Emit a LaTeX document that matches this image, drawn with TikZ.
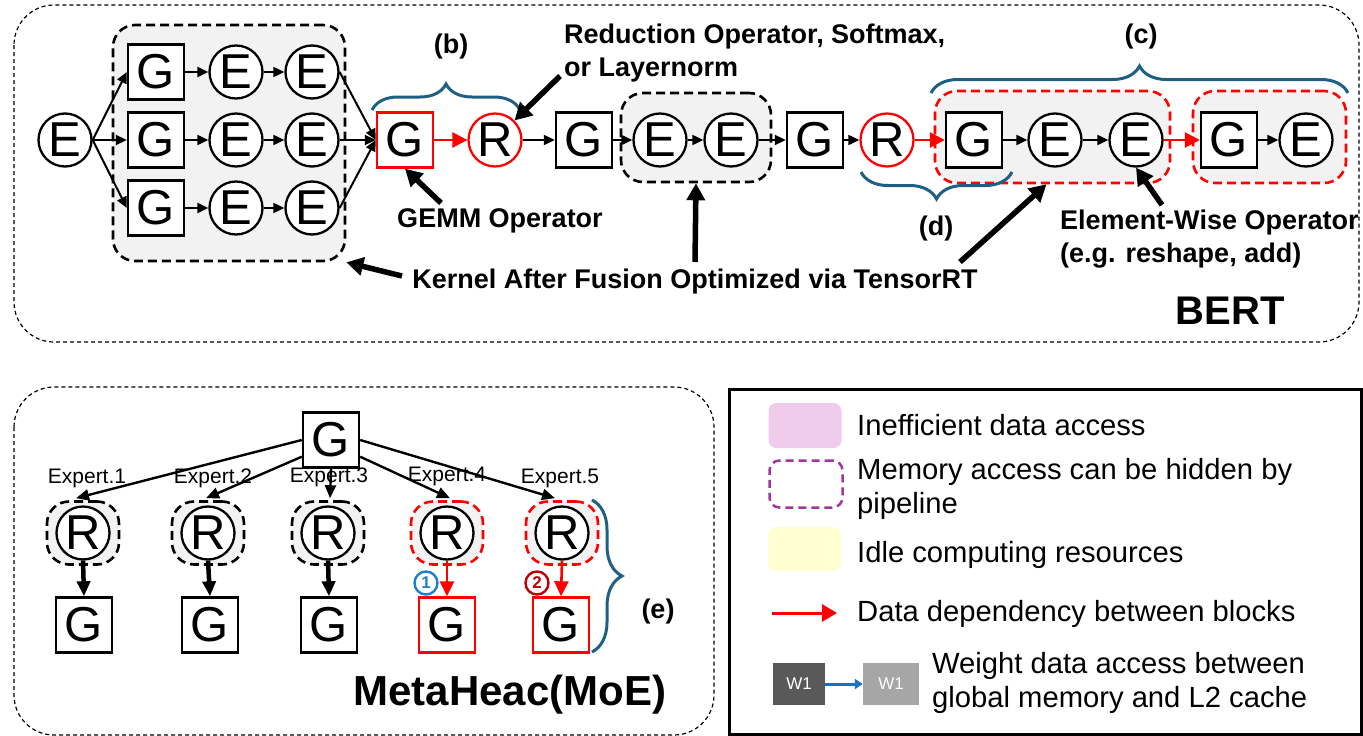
\documentclass[tikz,border=0pt]{standalone}
\usepackage{fontspec}
\setmainfont{Liberation Sans}
\usetikzlibrary{arrows.meta,decorations.pathreplacing,calc}

\definecolor{bracecol}{HTML}{1F5F84}
\definecolor{fusegray}{HTML}{F2F2F2}
\definecolor{pinkfill}{HTML}{F0CCEC}
\definecolor{purpledash}{HTML}{A0359C}
\definecolor{yellowfill}{HTML}{FFFFD2}
\definecolor{darkw}{HTML}{595959}
\definecolor{lightw}{HTML}{A6A6A6}
\definecolor{wireblue}{HTML}{1F70C1}
\definecolor{numblue}{HTML}{1F7FCC}
\definecolor{numred}{HTML}{C00000}
\definecolor{opred}{HTML}{FF0000}

\newcommand\opfont{\fontsize{49}{49}\selectfont}
\newcommand\lblfont{\bfseries\fontsize{27}{33}\selectfont}
\newcommand\legfont{\fontsize{29.2}{34}\selectfont}

\tikzset{
  panel/.style={draw, line width=1.2pt, dash pattern=on 4pt off 3pt, rounded corners=40pt},
  gnode/.style={draw, line width=2.4pt, fill=white, minimum width=56pt, minimum height=55pt, inner sep=0pt, font=\opfont},
  enode/.style={circle, draw, line width=2.3pt, fill=white, minimum size=53pt, inner sep=0pt, font=\opfont},
  fused/.style={draw, line width=2.6pt, dash pattern=on 9pt off 5pt, fill=fusegray, rounded corners=22pt, inner sep=0pt},
  redfused/.style={fused, draw=opred},
  blk/.style={-{Triangle[length=11pt,width=10pt]}, line width=2pt},
  redarr/.style={-{Triangle[length=15pt,width=15pt]}, draw=opred, fill=opred, line width=2.6pt},
  pointer/.style={-{Triangle[length=17pt,width=18pt]}, line width=5.5pt},
  fan/.style={-{Triangle[length=13pt,width=11pt]}, line width=2.4pt},
  drop/.style={-{Triangle[length=15pt,width=13pt]}, line width=4.5pt},
  reddrop/.style={-{Triangle[length=15pt,width=14pt]}, draw=opred, fill=opred, line width=2.6pt},
  bracedraw/.style={draw=bracecol, line width=3pt, decorate},
  lbl/.style={font=\lblfont, inner sep=0pt},
  explbl/.style={font=\fontsize{21}{21}\selectfont, inner sep=0pt},
  leg/.style={font=\legfont, inner sep=0pt, align=left},
  numc/.style={circle, line width=2.4pt, minimum size=23pt, inner sep=0pt, font=\bfseries\fontsize{17}{17}\selectfont},
}

\begin{document}
\begin{tikzpicture}[x=1pt, y=-1pt]
\useasboundingbox (0,0) rectangle (1363,736);

% ---------- BERT panel ----------
\draw[panel] (14,5) rectangle (1359,342);

% fused kernel around the three parallel branches
\node[fused, minimum width=232pt, minimum height=236pt] (k1) at (229,143) {};
\node[enode] (e0) at (65,140) {E};
\foreach \i/\y in {1/72,2/140,3/208}{
  \node[gnode] (g\i) at (156,\y) {G};
  \node[enode] (ea\i) at (236,\y) {E};
  \node[enode] (eb\i) at (312,\y) {E};
  \draw[blk] (e0.east) -- (g\i.west);
  \draw[blk] (g\i) -- (ea\i);
  \draw[blk] (ea\i) -- (eb\i);
}

\node[gnode, draw=opred] (rg) at (405,140) {G};
\node[enode, draw=opred] (rr) at (495,140) {R};
\foreach \i in {1,2,3}{ \draw[blk] (eb\i.east) -- (rg.west); }
\draw[redarr] (rg) -- (rr);

\node[gnode] (g4) at (584,140) {G};
\draw[blk] (rr) -- (g4);
\node[fused, minimum width=150pt, minimum height=89pt] (k2) at (696,137.5) {};
\node[enode] (e4a) at (660,140) {E};
\node[enode] (e4b) at (731,140) {E};
\node[gnode] (g5) at (815,140) {G};
\node[enode, draw=opred] (r5) at (887,140) {R};
\draw[blk] (g4) -- (e4a);
\draw[blk] (e4a) -- (e4b);
\draw[blk] (e4b) -- (g5);
\draw[blk] (g5) -- (r5);

\node[redfused, minimum width=235pt, minimum height=92pt] (k3) at (1052.5,137) {};
\node[gnode] (g6) at (974,140) {G};
\node[enode] (e6a) at (1055,140) {E};
\node[enode] (e6b) at (1136,140) {E};
\draw[redarr] (r5) -- (g6);
\draw[blk] (g6) -- (e6a);
\draw[blk] (e6a) -- (e6b);

\node[redfused, minimum width=153pt, minimum height=92pt] (k4) at (1269.5,137) {};
\node[gnode] (g7) at (1229,140) {G};
\node[enode] (e7) at (1306,140) {E};
\draw[redarr] (e6b) -- (g7);
\draw[blk] (g7) -- (e7);

% braces
\draw[bracedraw, decoration={brace, amplitude=26pt}] (372,110) -- (520,110);
\draw[bracedraw, decoration={brace, amplitude=27pt}] (931,93) -- (1348,93);
\draw[bracedraw, decoration={brace, amplitude=27pt}] (1012,172) -- (861,172);
\node[lbl] (lb) at (451,47) {(b)};
\node[lbl] (lc) at (1141,37) {(c)};
\node[lbl] (ld) at (936,229) {(d)};

% annotations
\node[lbl, anchor=north west, align=left] (redtxt) at (564,24) {Reduction Operator, Softmax,\\or Layernorm};
\coordinate (redtail) at (560,76);
\draw[pointer] (redtail) -- (rr.north east);

\node[lbl] (gemmtxt) at (500,221) {GEMM Operator};
\coordinate (gemmtail) at (441,203);
\draw[pointer] (gemmtail) -- (rg.south);

\node[lbl] (kerntxt) at (695,282) {Kernel After Fusion Optimized via TensorRT};
\coordinate (ktail1) at (402,276);
\coordinate (ktail2) at (695,262);
\coordinate (ktail3) at (960,262);
\draw[pointer] (ktail1) -- (k1.south east);
\draw[pointer] (ktail2) -- (k2.south);
\draw[pointer] (ktail3) -- ($(k3.south)+(-6,0)$);

\node[lbl, anchor=north west, align=left] (elemtxt) at (1060,210) {Element-Wise Operator\\(e.g. reshape, add)};
\coordinate (elemtail) at (1162,205);
\draw[pointer] (elemtail) -- (e6b.south);

\node[font=\bfseries\fontsize{40}{40}\selectfont, inner sep=0pt] (bert) at (1230,311) {BERT};

% ---------- MoE panel ----------
\draw[panel] (14,387) rectangle (714,735);

\node[gnode] (tg) at (331,440) {G};
\foreach \i/\x in {1/83,2/208,3/328,4/447,5/562}{
  \ifnum\i<4
    \node[fused, minimum width=72pt, minimum height=63pt] (rb\i) at (\x,533) {};
  \else
    \node[redfused, minimum width=72pt, minimum height=63pt] (rb\i) at (\x,533) {};
  \fi
  \node[enode] (r\i) at (\x,533) {R};
}
\node[gnode] (b1) at (84,625) {G};
\node[gnode] (b2) at (210,625) {G};
\node[gnode] (b3) at (329,625) {G};
\node[gnode, draw=opred] (b4) at (447,625) {G};
\node[gnode, draw=opred] (b5) at (561,625) {G};

\draw[fan] (tg.west) -- ($(rb1.north)+(-7,-2)$);
\draw[fan] ($(tg.south west)+(0,-12)$) -- ($(rb2.north)+(-2,-2)$);
\draw[fan] (tg.south) -- ($(rb3.north)+(2,-2)$);
\draw[fan] ($(tg.south east)+(0,-12)$) -- ($(rb4.north)+(3,-2)$);
\draw[fan] (tg.east) -- ($(rb5.north)+(-7,-2)$);

\node[explbl] (x1) at (87,478) {Expert.1};
\node[explbl] (x2) at (213,478) {Expert.2};
\node[explbl] (x3) at (329,477) {Expert.3};
\node[explbl] (x4) at (447,476) {Expert.4};
\node[explbl] (x5) at (560,478) {Expert.5};

\draw[drop] (r1.south) -- (b1.north);
\draw[drop] (r2.south) -- (b2.north);
\draw[drop] (r3.south) -- (b3.north);
\draw[reddrop] (r4.south) -- (b4.north);
\draw[reddrop] (r5.south) -- (b5.north);

\node[numc, draw=numblue, text=numblue] (n1) at (426,583) {1};
\node[numc, draw=numred, text=numred] (n2) at (537,583) {2};

\draw[bracedraw, decoration={brace, amplitude=30pt}] (592,500) -- (592,652);
\node[lbl] (le) at (658,612) {(e)};

\node[font=\bfseries\fontsize{42}{42}\selectfont, inner sep=0pt] (moe) at (510,695) {MetaHeac(MoE)};

% ---------- legend ----------
\draw[line width=3pt] (729,389) rectangle (1361.5,734);
\node[fill=pinkfill, rounded corners=8pt, minimum width=73pt, minimum height=45pt, inner sep=0pt] (lg1) at (805,425.5) {};
\node[leg, anchor=base west] (lt1) at (857,435) {Inefficient data access};
\node[draw=purpledash, line width=2.5pt, dash pattern=on 8pt off 5pt, rounded corners=10pt, minimum width=73pt, minimum height=47pt, inner sep=0pt] (lg2) at (806,484) {};
\node[leg, anchor=north west] (lt2) at (857,458) {Memory access can be hidden by\\pipeline};
\node[fill=yellowfill, rounded corners=8pt, minimum width=73pt, minimum height=44pt, inner sep=0pt] (lg3) at (804.5,549) {};
\node[leg, anchor=base west] (lt3) at (857,562) {Idle computing resources};
\coordinate (la) at (772,613);
\coordinate (lb2) at (837,613);
\draw[-{Triangle[length=15pt,width=17pt]}, draw=opred, fill=opred, line width=3pt] (la) -- (lb2);
\node[leg, anchor=base west] (lt4) at (857,621) {Data dependency between blocks};
\node[fill=darkw, minimum width=52pt, minimum height=42pt, inner sep=0pt, text=white, font=\fontsize{17}{17}\selectfont] (w1) at (799,684) {W1};
\node[fill=lightw, minimum width=56pt, minimum height=42pt, inner sep=0pt, text=white, font=\fontsize{17}{17}\selectfont] (w2) at (891,684) {W1};
\draw[-{Triangle[length=8pt,width=10pt]}, draw=wireblue, fill=wireblue, line width=3pt] (w1) -- (w2);
\node[leg, anchor=north west] (lt5) at (932,652) {Weight data access between\\global memory and L2 cache};
\end{tikzpicture}
\end{document}
